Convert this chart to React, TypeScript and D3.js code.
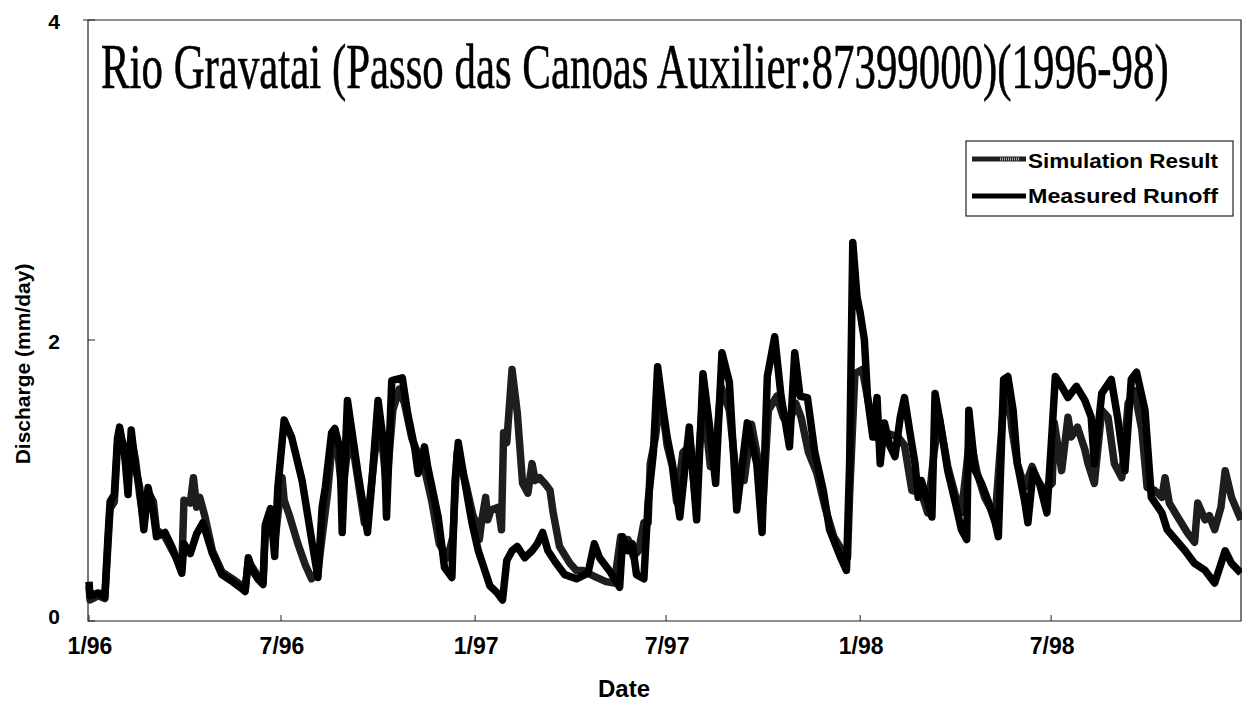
import React, { useEffect, useRef } from "react";
import * as d3 from "d3";

// days since 1 Jan 1996, discharge in mm/day
const measured: [number, number][] = [
  [0, 0.28], [1, 0.18], [9, 0.2], [15, 0.17], [18, 0.6], [20, 0.85], [24, 0.9], [27, 1.3],
  [29, 1.38], [34, 1.17], [37, 0.9], [40, 1.36], [44, 1.1], [48, 0.95], [52, 0.65], [56, 0.95],
  [61, 0.77], [64, 0.6], [72, 0.63], [79, 0.52], [88, 0.34], [90, 0.55], [96, 0.48], [102, 0.62],
  [108, 0.7], [117, 0.48], [126, 0.33], [136, 0.28], [145, 0.23], [148, 0.21], [151, 0.45],
  [155, 0.36], [160, 0.3], [165, 0.26], [167, 0.68], [172, 0.8], [176, 0.46], [179, 0.95],
  [185, 1.43], [192, 1.31], [202, 1.0], [211, 0.58], [217, 0.31], [221, 0.81], [224, 0.95],
  [230, 1.34], [233, 1.37], [238, 1.22], [240, 0.63], [243, 1.2], [245, 1.57], [255, 1.05],
  [264, 0.63], [268, 0.98], [274, 1.57], [280, 1.22], [282, 0.74], [287, 1.71], [297, 1.73],
  [302, 1.48], [309, 1.22], [312, 1.05], [318, 1.24], [321, 1.1], [331, 0.74], [337, 0.38],
  [344, 0.31], [347, 1.0], [350, 1.27], [356, 1.0], [363, 0.7], [369, 0.5], [373, 0.41],
  [380, 0.25], [387, 0.2], [392, 0.15], [396, 0.43], [401, 0.5], [406, 0.53], [413, 0.45],
  [420, 0.5], [425, 0.55], [430, 0.63], [435, 0.5], [442, 0.42], [451, 0.33], [462, 0.3],
  [473, 0.34], [479, 0.55], [484, 0.45], [494, 0.35], [503, 0.24], [506, 0.6], [511, 0.5],
  [515, 0.55], [519, 0.33], [526, 0.3], [530, 0.85], [535, 1.2], [539, 1.81], [544, 1.52],
  [548, 1.31], [553, 1.12], [560, 0.74], [569, 1.38], [576, 0.72], [582, 1.76], [588, 1.4],
  [594, 0.98], [600, 1.91], [607, 1.7], [614, 0.79], [624, 1.41], [633, 1.12], [638, 0.63],
  [643, 1.74], [650, 2.02], [656, 1.6], [664, 1.24], [669, 1.91], [674, 1.6], [681, 1.59],
  [688, 1.2], [696, 0.93], [702, 0.65], [712, 0.46], [718, 0.36], [721, 1.12], [724, 2.61],
  [728, 2.27], [731, 2.17], [735, 2.0], [738, 1.59], [743, 1.31], [747, 1.59], [750, 1.12],
  [754, 1.41], [759, 1.25], [764, 1.17], [769, 1.45], [773, 1.59], [778, 1.35], [783, 1.12],
  [786, 0.88], [789, 1.0], [795, 0.85], [799, 0.74], [802, 1.62], [806, 1.45], [814, 1.07],
  [821, 0.85], [827, 0.65], [832, 0.58], [834, 1.5], [840, 1.07], [846, 0.98], [852, 0.86],
  [859, 0.7], [862, 0.6], [867, 1.72], [871, 1.74], [876, 1.5], [880, 1.12], [887, 0.85],
  [890, 0.7], [895, 1.07], [901, 0.98], [908, 0.77], [913, 1.36], [916, 1.74], [922, 1.67],
  [928, 1.59], [936, 1.67], [944, 1.57], [950, 1.45], [953, 1.12], [960, 1.62], [969, 1.72],
  [975, 1.45], [982, 1.07], [988, 1.72], [993, 1.77], [1001, 1.5], [1007, 0.88], [1017, 0.77],
  [1022, 0.65], [1039, 0.5], [1048, 0.41], [1058, 0.36], [1067, 0.27], [1074, 0.43],
  [1077, 0.5], [1083, 0.41], [1092, 0.34],
];

const simulated: [number, number][] = [
  [0, 0.25], [1, 0.15], [9, 0.18], [15, 0.16], [18, 0.55], [20, 0.8], [24, 0.85], [27, 1.25],
  [29, 1.33], [33, 1.25], [37, 1.0], [40, 1.3], [44, 1.15], [48, 0.9], [52, 0.7], [56, 0.92],
  [61, 0.85], [64, 0.65], [72, 0.6], [79, 0.5], [88, 0.38], [90, 0.86], [96, 0.84], [99, 1.02],
  [102, 0.81], [105, 0.88], [110, 0.74], [117, 0.5], [126, 0.35], [136, 0.3], [145, 0.25],
  [148, 0.22], [151, 0.42], [155, 0.38], [160, 0.32], [165, 0.28], [167, 0.6], [172, 0.72],
  [176, 0.55], [183, 1.02], [185, 0.86], [190, 0.75], [198, 0.55], [205, 0.4], [211, 0.3],
  [217, 0.35], [221, 0.6], [226, 0.9], [231, 1.3], [236, 1.2], [240, 0.9], [244, 1.15],
  [249, 1.3], [255, 1.0], [261, 0.7], [266, 0.85], [271, 1.2], [277, 1.35], [282, 0.95],
  [288, 1.5], [294, 1.65], [299, 1.55], [306, 1.3], [314, 1.15], [319, 1.05], [325, 0.85],
  [332, 0.55], [340, 0.45], [345, 0.6], [349, 1.2], [353, 1.1], [358, 0.95], [364, 0.75],
  [367, 0.7], [370, 0.58], [372, 0.7], [376, 0.88], [378, 0.72], [381, 0.79], [388, 0.81],
  [391, 0.65], [393, 1.34], [396, 1.27], [401, 1.79], [406, 1.48], [411, 0.98], [416, 0.91],
  [420, 1.12], [423, 1.0], [427, 1.02], [432, 0.98], [437, 0.93], [440, 0.77], [446, 0.53],
  [456, 0.41], [462, 0.36], [468, 0.36], [473, 0.34], [481, 0.31], [490, 0.28], [498, 0.27],
  [504, 0.6], [507, 0.5], [511, 0.58], [516, 0.46], [521, 0.5], [526, 0.7], [530, 0.7],
  [532, 1.12], [537, 1.31], [540, 1.5], [543, 1.55], [548, 1.25], [553, 1.1], [557, 0.85],
  [563, 1.2], [570, 1.25], [575, 0.85], [582, 1.6], [589, 1.1], [594, 1.2], [599, 1.67],
  [607, 1.5], [614, 1.0], [621, 1.0], [628, 1.4], [633, 1.2], [639, 0.85], [644, 1.5],
  [652, 1.6], [658, 1.45], [663, 1.4], [670, 1.55], [675, 1.45], [682, 1.2], [690, 1.05],
  [698, 0.8], [706, 0.6], [714, 0.5], [719, 0.45], [721, 0.9], [726, 1.76], [733, 1.79],
  [738, 1.59], [745, 1.31], [751, 1.29], [759, 1.33], [767, 1.31], [773, 1.25], [780, 0.93],
  [789, 0.91], [795, 0.77], [801, 1.2], [806, 1.45], [814, 1.1], [821, 0.9], [827, 0.77],
  [835, 1.31], [842, 1.05], [849, 0.88], [859, 0.74], [866, 1.45], [870, 1.72], [875, 1.36],
  [880, 1.12], [887, 0.95], [894, 1.1], [899, 1.0], [906, 0.93], [913, 0.98], [915, 1.41],
  [922, 1.07], [928, 1.45], [931, 1.31], [937, 1.38], [944, 1.22], [947, 1.12], [953, 0.98],
  [960, 1.5], [966, 1.45], [972, 1.12], [979, 1.02], [985, 1.55], [991, 1.64], [998, 1.36],
  [1003, 0.95], [1010, 0.93], [1017, 0.88], [1020, 1.02], [1024, 0.84], [1032, 0.74],
  [1041, 0.63], [1048, 0.56], [1051, 0.84], [1058, 0.72], [1062, 0.75], [1067, 0.65],
  [1073, 0.81], [1077, 1.07], [1083, 0.88], [1092, 0.72],
];

const tickDates = ["1996-01-01", "1996-07-01", "1997-01-01", "1997-07-01", "1998-01-01", "1998-07-01"];
const tickLabels = ["1/96", "7/96", "1/97", "7/97", "1/98", "7/98"];
const yTicks = [0, 2, 4];
const seriesNames = ["Simulation Result", "Measured Runoff"];

const start = new Date(1996, 0, 1);
const dayToDate = (d: number) => d3.timeDay.offset(start, d);
const sans = "'Liberation Sans', Arial, sans-serif";

const App: React.FC = () => {
  const svgRef = useRef<SVGSVGElement | null>(null);

  useEffect(() => {
    const svg = d3.select(svgRef.current);
    svg.selectAll("*").remove();

    const left = 88;
    const right = 1241;
    const top = 20;
    const bottom = 621;

    const x = d3.scaleTime().domain([start, dayToDate(1092)]).range([89, right]);
    // the scanned axis is not quite even, so map through the 2 tick as well
    const y = d3.scaleLinear().domain([0, 2, 4]).range([bottom, 340, top]);

    svg.append("rect").attr("width", 1242).attr("height", 704).attr("fill", "#fff");

    // frame
    svg
      .append("path")
      .attr("d", `M${left - 5},${top}H${right}V${bottom}H${left}V${top}`)
      .attr("fill", "none")
      .attr("stroke", "#222")
      .attr("stroke-width", 1.2);

    // title, squeezed horizontally to the width it has in the figure
    const title = svg
      .append("text")
      .attr("x", 0)
      .attr("y", 0)
      .style("font-family", "'Liberation Serif', 'Times New Roman', serif")
      .style("font-size", "64px")
      .style("stroke", "#000")
      .style("stroke-width", 0.6)
      .text("Rio Gravatai (Passo das Canoas Auxilier:87399000)(1996-98)");
    const natural = (title.node() as SVGTextElement).getComputedTextLength() || 1068;
    title.attr("transform", `translate(101,88) scale(${1068 / natural},1)`);

    // x ticks
    const xg = svg.append("g");
    tickDates.forEach((t, i) => {
      const px = x(d3.timeParse("%Y-%m-%d")(t)!);
      xg.append("line")
        .attr("x1", px).attr("x2", px)
        .attr("y1", bottom).attr("y2", bottom - 6)
        .attr("stroke", "#222");
      xg.append("text")
        .attr("x", px + 1)
        .attr("y", 654)
        .attr("text-anchor", "middle")
        .style("font-family", sans)
        .style("font-size", "23px")
        .style("font-weight", "bold")
        .text(tickLabels[i]);
    });

    // y ticks
    const yg = svg.append("g");
    yTicks.forEach((v) => {
      yg.append("line")
        .attr("x1", left).attr("x2", left + 7)
        .attr("y1", y(v)).attr("y2", y(v))
        .attr("stroke", "#222");
      yg.append("text")
        .attr("x", 54)
        .attr("y", v === 0 ? y(v) + 3 : y(v) + 9)
        .attr("text-anchor", "middle")
        .style("font-family", sans)
        .style("font-size", "21px")
        .style("font-weight", "bold")
        .text(v);
    });

    svg
      .append("text")
      .attr("transform", "translate(30,364) rotate(-90)")
      .attr("text-anchor", "middle")
      .style("font-family", sans)
      .style("font-size", "21px")
      .style("font-weight", "bold")
      .text("Discharge (mm/day)");

    svg
      .append("text")
      .attr("x", 624)
      .attr("y", 697)
      .attr("text-anchor", "middle")
      .style("font-family", sans)
      .style("font-size", "24px")
      .style("font-weight", "bold")
      .text("Date");

    const line = d3
      .line<[number, number]>()
      .x((d) => x(dayToDate(d[0])))
      .y((d) => y(d[1]));

    svg
      .append("path")
      .datum(simulated)
      .attr("d", line)
      .attr("fill", "none")
      .attr("stroke", "#1e1e1e")
      .attr("stroke-width", 7.5)
      .attr("stroke-linejoin", "round");

    svg
      .append("path")
      .datum(measured)
      .attr("d", line)
      .attr("fill", "none")
      .attr("stroke", "#000")
      .attr("stroke-width", 7.5)
      .attr("stroke-linejoin", "round");

    // legend
    const lg = svg.append("g");
    lg.append("rect")
      .attr("x", 966).attr("y", 141)
      .attr("width", 267).attr("height", 75)
      .attr("fill", "#fff")
      .attr("stroke", "#222")
      .attr("stroke-width", 1.2);

    const rows = [
      { name: seriesNames[0], ly: 159, ty: 168, color: "#1e1e1e", dash: true },
      { name: seriesNames[1], ly: 196, ty: 203, color: "#000", dash: false },
    ];
    rows.forEach((r) => {
      lg.append("line")
        .attr("x1", 972).attr("x2", 1026)
        .attr("y1", r.ly).attr("y2", r.ly)
        .attr("stroke", r.color)
        .attr("stroke-width", 5);
      if (r.dash) {
        lg.append("line")
          .attr("x1", 1000).attr("x2", 1020)
          .attr("y1", r.ly).attr("y2", r.ly)
          .attr("stroke", "#aaa")
          .attr("stroke-width", 3)
          .attr("stroke-dasharray", "1,1");
      }
      lg.append("text")
        .attr("x", 1028)
        .attr("y", r.ty)
        .attr("textLength", 190)
        .attr("lengthAdjust", "spacingAndGlyphs")
        .style("font-family", sans)
        .style("font-size", "21px")
        .style("font-weight", "bold")
        .text(r.name);
    });
  }, []);

  return (
    <svg
      ref={svgRef}
      width={1242}
      height={704}
      style={{ position: "absolute", left: 0, top: 0, display: "block" }}
    />
  );
};

export default App;
